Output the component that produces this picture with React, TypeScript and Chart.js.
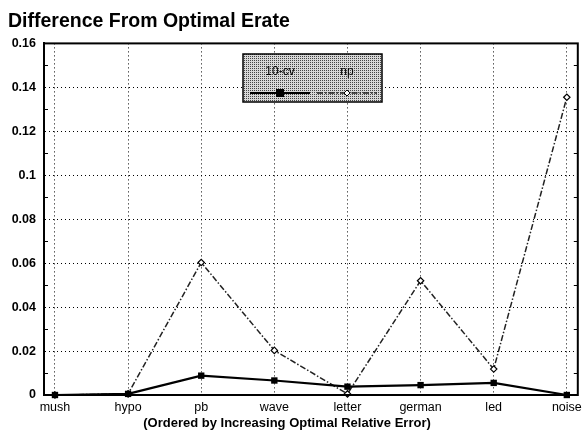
import React, { useEffect, useRef } from "react";
import { Chart, registerables } from "chart.js";

Chart.register(...registerables);

const categories = ["mush", "hypo", "pb", "wave", "letter", "german", "led", "noise"];
const cvValues = [0, 0.0005, 0.0088, 0.0066, 0.0038, 0.0045, 0.0055, 0];
const npValues = [0, 0.0005, 0.0603, 0.0203, 0.0005, 0.052, 0.0118, 0.1355];
const seriesLabels = ["10-cv", "np"];
const yTicks = [0, 0.02, 0.04, 0.06, 0.08, 0.1, 0.12, 0.14, 0.16];
const xTitle = "(Ordered by Increasing Optimal Relative Error)";

const FONT = "'Liberation Sans', Arial, Helvetica, sans-serif";

function makeStipple(ctx: CanvasRenderingContext2D) {
  const c = document.createElement("canvas");
  c.width = 2;
  c.height = 2;
  const g = c.getContext("2d")!;
  g.fillStyle = "#d8d8d8";
  g.fillRect(0, 0, 2, 2);
  g.fillStyle = "#444";
  g.fillRect(0, 0, 1, 1);
  return ctx.createPattern(c, "repeat")!;
}

const framePlugin = {
  id: "frame",
  afterDatasetsDraw(chart: any) {
    const { ctx, chartArea } = chart;
    const yScale = chart.scales.y;
    ctx.save();
    ctx.strokeStyle = "#000";
    ctx.lineWidth = 1;
    for (let i = 0; i < yTicks.length - 1; i++) {
      const v = (yTicks[i] + yTicks[i + 1]) / 2;
      const py = Math.round(yScale.getPixelForValue(v)) + 0.5;
      ctx.beginPath();
      ctx.moveTo(chartArea.left, py);
      ctx.lineTo(chartArea.left + 4, py);
      ctx.moveTo(chartArea.right, py);
      ctx.lineTo(chartArea.right - 4, py);
      ctx.stroke();
    }
    ctx.lineWidth = 2;
    ctx.strokeRect(chartArea.left, chartArea.top, chartArea.right - chartArea.left, chartArea.bottom - chartArea.top);
    ctx.restore();
  },
  afterDraw(chart: any) {
    const { ctx } = chart;
    const ds = chart.data.datasets;
    ctx.save();
    ctx.font = `bold 13px ${FONT}`;
    ctx.fillStyle = "#000";
    ctx.textAlign = "center";
    ctx.textBaseline = "middle";
    ctx.fillText(xTitle, 287, 423);
    const bx = 243, by = 54, bw = 139, bh = 48;
    ctx.fillStyle = makeStipple(ctx);
    ctx.fillRect(bx, by, bw, bh);
    ctx.strokeStyle = "#000";
    ctx.lineWidth = 1.5;
    ctx.strokeRect(bx, by, bw, bh);
    ctx.font = `12px ${FONT}`;
    ctx.fillStyle = "#000";
    const centers = [280, 347];
    ds.forEach((d: any, i: number) => {
      const cx = centers[i];
      ctx.fillText(d.label, cx, by + 18);
      const ly = by + 39;
      ctx.save();
      ctx.strokeStyle = d.borderColor;
      ctx.lineWidth = d.borderWidth;
      ctx.setLineDash(d.borderDash || []);
      ctx.beginPath();
      ctx.moveTo(cx - 30, ly);
      ctx.lineTo(cx + 30, ly);
      ctx.stroke();
      ctx.restore();
      if (d.pointStyle === "rect") {
        ctx.fillStyle = "#000";
        ctx.fillRect(cx - 4, ly - 4, 8, 8);
      } else {
        ctx.save();
        ctx.fillStyle = "#fff";
        ctx.strokeStyle = "#000";
        ctx.lineWidth = 1;
        ctx.beginPath();
        ctx.moveTo(cx, ly - 3);
        ctx.lineTo(cx + 3, ly);
        ctx.lineTo(cx, ly + 3);
        ctx.lineTo(cx - 3, ly);
        ctx.closePath();
        ctx.fill();
        ctx.stroke();
        ctx.restore();
      }
    });
    ctx.restore();
  },
};

export default function App() {
  const ref = useRef<HTMLCanvasElement>(null);
  useEffect(() => {
    document.body.style.margin = "0";
    const canvas = ref.current!;
    const chart = new Chart(canvas, {
      type: "line",
      data: {
        datasets: [
          {
            label: seriesLabels[0],
            data: cvValues.map((v, i) => ({ x: i, y: v })),
            borderColor: "#000",
            backgroundColor: "#000",
            borderWidth: 2.2,
            pointStyle: "rect",
            pointRadius: 4.5,
            pointBorderWidth: 0,
            pointBackgroundColor: "#000",
            clip: false as any,
            order: 0,
          },
          {
            label: seriesLabels[1],
            data: npValues.map((v, i) => ({ x: i, y: v })),
            borderColor: "#222",
            backgroundColor: "#fff",
            borderWidth: 1.5,
            borderDash: [6, 2, 1.5, 2],
            pointStyle: "rectRot",
            pointRadius: 3.2,
            pointBorderWidth: 1.2,
            pointBorderColor: "#000",
            pointBackgroundColor: "#fff",
            clip: false as any,
            order: 1,
          },
        ],
      },
      options: {
        responsive: false,
        animation: false,
        events: [],
        layout: { padding: { left: 8, right: 4, top: 0, bottom: 0 } },
        plugins: {
          legend: { display: false },
          tooltip: { enabled: false },
          title: {
            display: true,
            text: "Difference From Optimal Erate",
            align: "start",
            color: "#000",
            font: { family: FONT, size: 19.5, weight: "bold" },
            padding: { top: 10, bottom: 10 },
          },
        },
        scales: {
          x: {
            type: "linear",
            min: -0.15,
            max: categories.length - 1 + 0.15,
            afterBuildTicks: (s: any) => {
              s.ticks = categories.map((_, i) => ({ value: i }));
            },
            afterFit: (s: any) => {
              s.height = 42;
              s.paddingRight = 0;
              s.paddingLeft = 0;
            },
            ticks: {
              color: "#000",
              font: { family: FONT, size: 12.5 },
              padding: 5,
              autoSkip: false,
              maxRotation: 0,
              callback: (v: any) => categories[v as number] ?? "",
            },
            grid: { color: "#000", lineWidth: 1, drawTicks: false },
            border: { display: true, color: "#000", width: 2, dash: [1, 3] },
          },
          y: {
            min: 0,
            max: 0.16,
            afterBuildTicks: (s: any) => {
              s.ticks = yTicks.map((v) => ({ value: v }));
            },
            afterFit: (s: any) => {
              s.width = 36;
            },
            ticks: {
              color: "#000",
              font: { family: FONT, size: 12.5, weight: "bold" },
              padding: 8,
              callback: (v: any) => String(Number((v as number).toFixed(2))),
            },
            grid: { color: "#000", lineWidth: 1, drawTicks: false },
            border: { display: true, color: "#000", width: 2, dash: [1, 3] },
          },
        },
      },
      plugins: [framePlugin],
    });
    return () => chart.destroy();
  }, []);
  return (
    <div style={{ width: 583, height: 437 }}>
      <canvas ref={ref} width={583} height={437} style={{ display: "block" }} />
    </div>
  );
}
